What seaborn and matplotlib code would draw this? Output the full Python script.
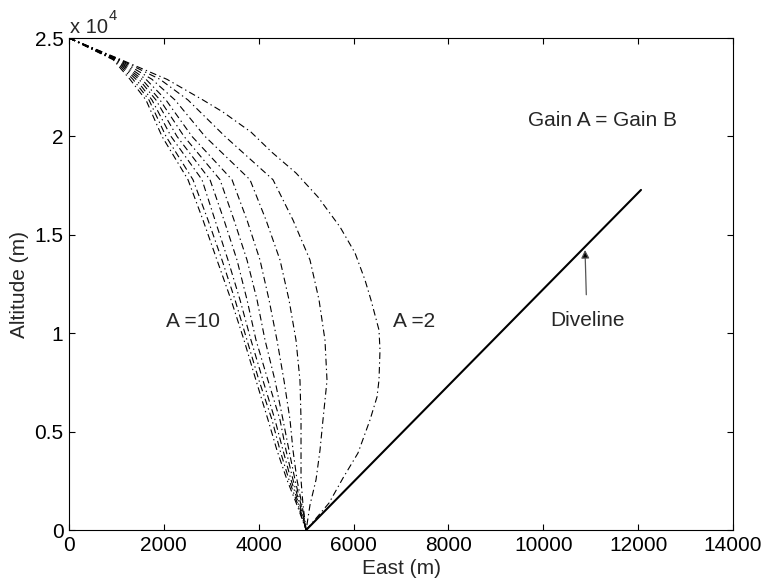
import matplotlib
matplotlib.use("Agg")
import matplotlib.pyplot as plt
import seaborn as sns
import numpy as np
import pandas as pd

# ---- data ----
altitude = [25000, 23900, 22900, 21850, 20000, 17800, 15750, 13720,
            11700, 9650, 7600, 5600, 4050, 2550, 1270, 0]

east_A10 = [0, 928, 1286, 1623, 1961, 2509, 2825, 3120, 3416, 3690, 3943, 4196, 4385, 4596, 4807, 5000]
east_A9 = [0, 949, 1349, 1687, 2045, 2614, 2931, 3226, 3500, 3753, 4006, 4280, 4449, 4638, 4828, 5000]
east_A8 = [0, 970, 1413, 1750, 2151, 2804, 3078, 3352, 3605, 3837, 4090, 4343, 4512, 4681, 4849, 5000]
east_A7 = [0, 991, 1476, 1834, 2277, 2973, 3268, 3542, 3753, 3943, 4196, 4449, 4575, 4723, 4870, 5000]
east_A6 = [0, 1012, 1539, 1919, 2425, 3184, 3479, 3753, 3964, 4133, 4343, 4512, 4638, 4765, 4892, 5000]
east_A5 = [0, 1033, 1623, 2045, 2593, 3437, 3753, 4027, 4217, 4385, 4533, 4660, 4723, 4807, 4913, 5000]
east_A4 = [0, 1054, 1750, 2235, 2867, 3816, 4154, 4449, 4638, 4786, 4870, 4892, 4892, 4892, 4934, 5000]
east_A3 = [0, 1075, 1919, 2509, 3289, 4301, 4723, 5081, 5271, 5397, 5440, 5355, 5292, 5208, 5081, 5000]

# outermost curve (A = 2), read at more altitudes
east_A2 = [0, 1096, 2066, 2825, 3245, 3837, 4280, 4786, 5250, 5714, 6030, 6240, 6367,
           6536, 6557, 6536, 6494, 6346, 6093, 5777, 5482, 5000]
alt_A2 = [25000, 23900, 22900, 21850, 21240, 20220, 19190, 18140, 16920, 15400, 14080,
          12710, 11690, 10160, 9140, 7620, 6760, 5590, 3910, 2640, 1370, 0]

gains = [10, 9, 8, 7, 6, 5, 4, 3, 2]
curves_east = [east_A10, east_A9, east_A8, east_A7, east_A6, east_A5, east_A4, east_A3, east_A2]
curves_alt = [altitude] * 8 + [alt_A2]

diveline_east = [5000, 12060]
diveline_alt = [0, 17280]

x_ticks = [0, 2000, 4000, 6000, 8000, 10000, 12000, 14000]
y_ticks = [0, 5000, 10000, 15000, 20000, 25000]
y_tick_labels = ["0", "0.5", "1", "1.5", "2", "2.5"]

# ---- style ----
sns.set_style("ticks")
plt.rcParams["font.family"] = ["Liberation Sans", "DejaVu Sans"]
plt.rcParams["axes.linewidth"] = 0.8

fig = plt.figure(figsize=(7.65, 5.8), dpi=100)
ax = fig.add_axes([69 / 765, 1 - 530 / 580, (733 - 69) / 765, (530 - 38) / 580])

for g, ex, ey in zip(gains, curves_east, curves_alt):
    df = pd.DataFrame({"East": ex, "Altitude": ey})
    sns.lineplot(data=df, x="East", y="Altitude", sort=False, estimator=None,
                 color="black", lw=0.8, ax=ax)
    ax.lines[-1].set_dashes([6, 3, 1.2, 3])

dv = pd.DataFrame({"East": diveline_east, "Altitude": diveline_alt})
sns.lineplot(data=dv, x="East", y="Altitude", sort=False, estimator=None,
             color="black", lw=1.5, ax=ax)

ax.set_xlim(0, 14000)
ax.set_ylim(0, 25000)
ax.set_xticks(x_ticks)
ax.set_yticks(y_ticks)
ax.set_xticklabels([str(t) for t in x_ticks])
ax.set_yticklabels(y_tick_labels)
ax.tick_params(direction="in", length=4.3, width=0.8, top=True, right=True,
               labelsize=15, pad=4, colors="black")
for s in ax.spines.values():
    s.set_visible(True)
    s.set_color("black")

ax.set_xlabel("East (m)", fontsize=15, labelpad=3)
ax.set_ylabel("Altitude (m)", fontsize=15, labelpad=4)

# exponent label
fig.text(70 / 765, 1 - 33 / 580, "x 10", fontsize=14.5, ha="left", va="baseline")
fig.text(109 / 765, 1 - 20 / 580, "4", fontsize=10.5, ha="left", va="baseline")

ax.text(2625, 10570, "A =10", fontsize=15, ha="center", va="center")
ax.text(7274, 10570, "A =2", fontsize=15, ha="center", va="center")
ax.text(11238, 20833, "Gain A = Gain B", fontsize=15, ha="center", va="center")
ax.annotate("Diveline", xy=(10880, 14228), xytext=(10922, 10670),
            ha="center", va="center", fontsize=15,
            arrowprops=dict(arrowstyle="-|>", color="#555555", lw=0.9,
                            shrinkA=9, shrinkB=0, mutation_scale=12,
                            fc="black"))

if ax.get_legend():
    ax.get_legend().remove()

fig.savefig("out.png", dpi=100)
